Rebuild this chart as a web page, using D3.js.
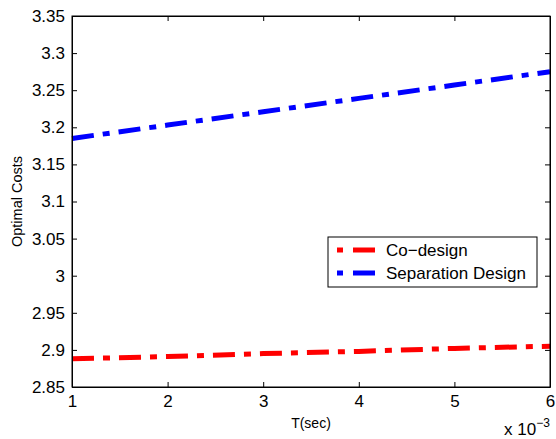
<!DOCTYPE html>
<html>
<head>
<meta charset="utf-8">
<script src="https://cdn.jsdelivr.net/npm/d3@7"></script>
<style>
  body { margin: 0; background: #fff; }
  text { font-family: "Liberation Sans", Arial, sans-serif; fill: #000; }
</style>
</head>
<body>
<div id="chart"></div>
<script>
// T values (x 10^-3 sec)
const tValues = [1, 2, 3, 4, 5, 6];
const coDesign = [2.888, 2.891, 2.895, 2.898, 2.902, 2.905];
const separationDesign = [3.185, 3.203, 3.221, 3.239, 3.257, 3.275];
const seriesNames = ['Co\u2212design', 'Separation Design'];
const seriesColors = ['#ff0000', '#0000ff'];
const xTicks = [1, 2, 3, 4, 5, 6];
const yTicks = [2.85, 2.9, 2.95, 3, 3.05, 3.1, 3.15, 3.2, 3.25, 3.3, 3.35];

function linechart() {
  let margin = { top: 16, left: 72, right: 6, bottom: 52 },
    width = 556 - margin.left - margin.right,
    height = 439 - margin.top - margin.bottom;

  function chart(selector) {
    let svg = d3.select(selector)
      .append('svg')
      .attr('width', 556)
      .attr('height', 439);

    let g = svg.append('g')
      .attr('transform', 'translate(' + margin.left + ',' + margin.top + ')');

    let x = d3.scaleLinear().domain([1, 6]).range([0, width]);
    let y = d3.scaleLinear().domain([2.85, 3.35]).range([height, 0]);

    // lines first, box on top
    let line = d3.line()
      .x((d, i) => x(tValues[i]))
      .y(d => y(d));

    [coDesign, separationDesign].forEach(function (s, i) {
      g.append('path')
        .datum(s)
        .attr('d', line)
        .attr('fill', 'none')
        .attr('stroke', seriesColors[i])
        .attr('stroke-width', 5)
        .attr('stroke-dasharray', '22,9,7,9');
    });

    // axes: MATLAB style, ticks inside on every side
    let fmtY = d => d3.format('')(+d.toFixed(2));
    g.append('g')
      .attr('transform', 'translate(0,' + height + ')')
      .call(d3.axisBottom(x).tickValues(xTicks).tickSizeInner(-5).tickSizeOuter(0).tickPadding(8).tickFormat(d3.format('d')));
    g.append('g')
      .call(d3.axisTop(x).tickValues(xTicks).tickSizeInner(-5).tickSizeOuter(0).tickFormat(''));
    g.append('g')
      .call(d3.axisLeft(y).tickValues(yTicks).tickSizeInner(-5).tickSizeOuter(0).tickPadding(7).tickFormat(fmtY));
    g.append('g')
      .attr('transform', 'translate(' + width + ',0)')
      .call(d3.axisRight(y).tickValues(yTicks).tickSizeInner(-5).tickSizeOuter(0).tickFormat(''));

    g.selectAll('.domain').attr('stroke', '#000');
    g.selectAll('.tick line').attr('stroke', '#000');
    g.selectAll('.tick text').attr('font-size', 17).style('font-family', '"Liberation Sans", Arial, sans-serif');

    g.append('rect')
      .attr('width', width)
      .attr('height', height)
      .attr('fill', 'none')
      .attr('stroke', '#000')
      .attr('stroke-width', 1);

    // axis labels
    svg.append('text')
      .attr('x', 311)
      .attr('y', 428)
      .attr('text-anchor', 'middle')
      .attr('font-size', 14)
      .text('T(sec)');

    svg.append('text')
      .attr('transform', 'translate(22,' + (margin.top + height / 2) + ') rotate(-90)')
      .attr('text-anchor', 'middle')
      .attr('font-size', 14.5)
      .text('Optimal Costs');

    let mult = svg.append('text')
      .attr('x', 504)
      .attr('y', 435)
      .attr('font-size', 17);
    mult.append('tspan').text('x 10');
    mult.append('tspan').attr('dy', -8).attr('font-size', 12).text('\u22123');

    // legend
    let legend = svg.append('g').attr('transform', 'translate(328,237)');
    legend.append('rect')
      .attr('width', 209)
      .attr('height', 50)
      .attr('fill', '#fff')
      .attr('stroke', '#000');

    seriesNames.forEach(function (name, i) {
      let ly = 13 + i * 23;
      legend.append('line')
        .attr('x1', 9).attr('x2', 47)
        .attr('y1', ly).attr('y2', ly)
        .attr('stroke', seriesColors[i])
        .attr('stroke-width', 5)
        .attr('stroke-dasharray', '6,10,22,9');
      legend.append('text')
        .attr('x', 58)
        .attr('y', ly + 6)
        .attr('font-size', 17)
        .text(name);
    });
  }

  return chart;
}

linechart()('#chart');
</script>
</body>
</html>
